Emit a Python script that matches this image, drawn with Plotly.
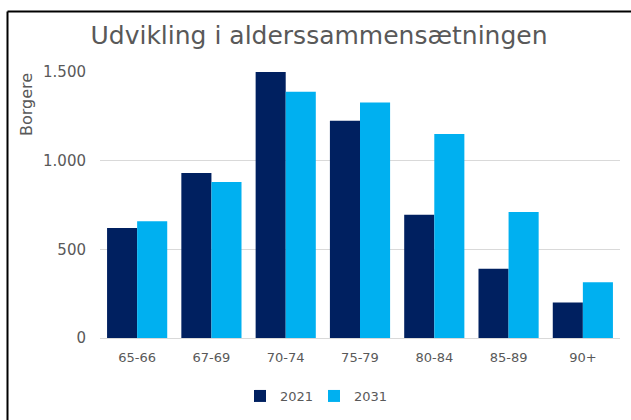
import plotly.graph_objects as go

categories = ["65-66", "67-69", "70-74", "75-79", "80-84", "85-89", "90+"]
values_2021 = [620, 930, 1500, 1225, 695, 390, 200]
values_2031 = [658, 880, 1388, 1328, 1150, 710, 315]
series_names = ["2021", "2031"]
title_text = "Udvikling i alderssammensætningen"
y_title = "Borgere"
y_ticks = [0, 500, 1000, 1500]

W, H = 631, 420
L, R, T, B = 100, 11, 72, 82
pw, ph = W - L - R, H - T - B

def px(x):
    return (x - L) / pw

def py(y):
    return (H - B - y) / ph

FONT = "DejaVu Sans"
GRAY = "#595959"

fig = go.Figure()
fig.add_trace(go.Bar(x=categories, y=values_2021, name=series_names[0],
                     marker=dict(color="#002060", line=dict(width=0))))
fig.add_trace(go.Bar(x=categories, y=values_2031, name=series_names[1],
                     marker=dict(color="#00B0F0", line=dict(width=0))))

fig.update_layout(
    width=W, height=H,
    margin=dict(l=L, r=R, t=T, b=B, autoexpand=False),
    paper_bgcolor="white", plot_bgcolor="white",
    separators=",.",
    barmode="group", bargap=0.19, bargroupgap=0,
    font=dict(family=FONT, color=GRAY, size=13),
    title=dict(text=title_text, x=319 / W, xanchor="center",
               y=1 - 35 / H, yanchor="middle",
               font=dict(family=FONT, size=25, color=GRAY)),
    legend=dict(orientation="h", x=px(314), xanchor="center",
                y=py(396), yanchor="middle", font=dict(size=13, color=GRAY),
                itemwidth=30, entrywidth=29, entrywidthmode="pixels",
                traceorder="normal"),
    showlegend=True,
)
fig.update_xaxes(showgrid=False, showline=False, ticks="",
                 ticklabelstandoff=10,
                 tickfont=dict(size=13, color=GRAY))
fig.update_yaxes(range=[0, 1500], tickvals=y_ticks, tickformat=",d",
                 showgrid=True, gridcolor="#D9D9D9", gridwidth=1,
                 zeroline=True, zerolinecolor="#D9D9D9", zerolinewidth=1,
                 showline=False, ticks="", ticklabelstandoff=13,
                 tickfont=dict(size=15, color=GRAY))

fig.add_annotation(text=y_title, xref="paper", yref="paper",
                   x=px(26), y=py(105), textangle=-90, showarrow=False,
                   xanchor="center", yanchor="middle",
                   font=dict(size=16, color=GRAY))

fig.add_shape(type="line", xref="paper", yref="paper",
              x0=px(7.5), x1=px(640), y0=py(11.5), y1=py(11.5),
              line=dict(color="black", width=2))
fig.add_shape(type="line", xref="paper", yref="paper",
              x0=px(7.5), x1=px(7.5), y0=py(11.5), y1=py(430),
              line=dict(color="black", width=2))

fig.write_html("out.html", config={"displayModeBar": False},
               post_script="document.body.style.margin='0';document.body.style.overflow='hidden';")
